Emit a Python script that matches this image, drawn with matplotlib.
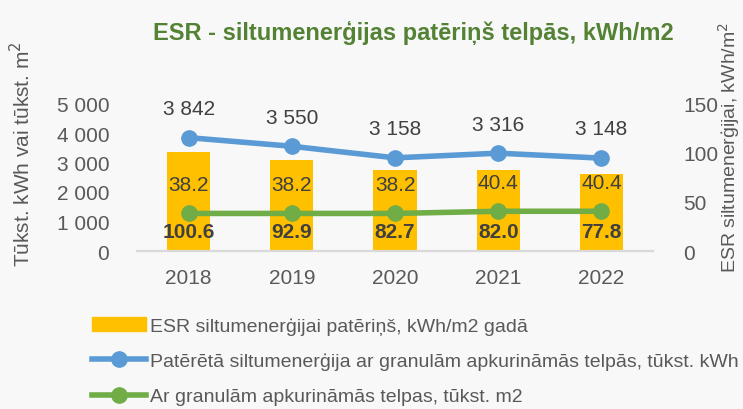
import matplotlib
matplotlib.use("Agg")
import matplotlib.pyplot as plt
from matplotlib.lines import Line2D
from matplotlib.patches import Patch

plt.rcParams['font.family'] = ['Liberation Sans Narrow', 'Liberation Sans', 'DejaVu Sans']

years = ['2018', '2019', '2020', '2021', '2022']
esr_kwh_m2 = [100.6, 92.9, 82.7, 82.0, 77.8]
heat_kwh = [3842, 3550, 3158, 3316, 3148]
area_m2 = [38.2, 38.2, 38.2, 40.4, 40.4]

bar_col = '#FFC000'
blue = '#5B9BD5'
green = '#70AD47'
txt = '#404040'
tick_col = '#595959'
bg = '#F8F8F8'

fig = plt.figure(figsize=(7.43, 4.10), dpi=100, facecolor=bg)
ax = fig.add_axes([137/743, 1 - 252/410, 516/743, 147.5/410])
ax.set_facecolor('none')
ax2 = ax.twinx()
x = list(range(len(years)))

# bars and green line on the right axis, blue line on the left axis
ax2.bar(x, esr_kwh_m2, width=0.42, color=bar_col, zorder=1)
ax2.plot(x, area_m2, color=green, lw=4, marker='o', ms=11, zorder=3)
ax.plot(x, heat_kwh, color=blue, lw=4, marker='o', ms=11, zorder=3)
ax.set_zorder(ax2.get_zorder() + 1)

ax.set_xlim(-0.5, 4.5)
ax.set_ylim(0, 5000)
ax2.set_ylim(0, 150)
ax.set_yticks([0, 1000, 2000, 3000, 4000, 5000])
ax.set_yticklabels(['0', '1 000', '2 000', '3 000', '4 000', '5 000'])
ax2.set_yticks([0, 50, 100, 150])
ax.set_xticks(x)
ax.set_xticklabels(years)

for a in (ax, ax2):
    for s in ('top', 'left', 'right'):
        a.spines[s].set_visible(False)
    a.spines['bottom'].set_color('#D9D9D9')
    a.spines['bottom'].set_linewidth(1.5)
    a.tick_params(length=0, labelsize=15, colors=tick_col)
ax.tick_params(axis='y', pad=20)
ax2.tick_params(axis='y', pad=22)
ax.tick_params(axis='x', pad=12)

for i in x:
    ax.annotate(f"{heat_kwh[i]:,}".replace(',', ' '), (i, heat_kwh[i]), xytext=(0, 21),
                textcoords='offset points', ha='center', va='center', fontsize=15, color=txt)
    ax2.annotate(f"{area_m2[i]:.1f}", (i, area_m2[i]), xytext=(0, 21),
                 textcoords='offset points', ha='center', va='center', fontsize=15, color=txt)
    ax2.annotate(f"{esr_kwh_m2[i]:.1f}", (i, 0), xytext=(0, 14),
                 textcoords='offset points', ha='center', va='center', fontsize=15,
                 fontweight='bold', color=txt)

fig.text(0.557, 0.92, 'ESR - siltumenerģijas patēriņš telpās, kWh/m2', ha='center', va='center',
         fontsize=17, fontweight='bold', color='#548235')
fig.text(22/743, 1 - 267/410, 'Tūkst. kWh vai tūkst. m$^2$', rotation=90, ha='center', va='bottom',
         fontsize=15, color=tick_col)
fig.text(729/743, 1 - 273/410, 'ESR siltumenerģijai, kWh/m$^2$', rotation=90, ha='center', va='bottom',
         fontsize=14, color=tick_col)

handles = [Patch(color=bar_col),
           Line2D([], [], color=blue, lw=4, marker='o', ms=11),
           Line2D([], [], color=green, lw=4, marker='o', ms=11)]
labels = ['ESR siltumenerģijai patēriņš, kWh/m2 gadā',
          'Patērētā siltumenerģija ar granulām apkurināmās telpās, tūkst. kWh',
          'Ar granulām apkurināmās telpas, tūkst. m2']
fig.legend(handles, labels, loc='upper left', bbox_to_anchor=(84/743, 1 - 310/410), frameon=False,
           fontsize=14, labelcolor=tick_col, handlelength=2.8, handletextpad=0.2, labelspacing=0.9,
           borderaxespad=0)

fig.savefig('out.png', dpi=100, facecolor=bg)
